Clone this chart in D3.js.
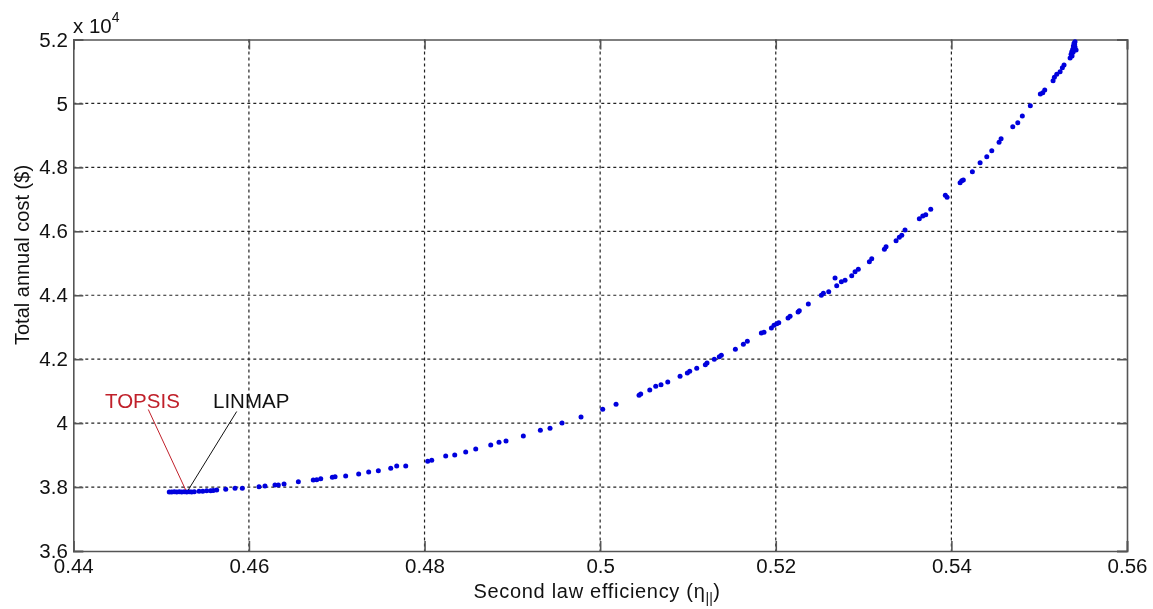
<!DOCTYPE html>
<html>
<head>
<meta charset="utf-8">
<script src="https://cdn.jsdelivr.net/npm/d3@7"></script>
<style>
  html, body { margin: 0; padding: 0; background: #fff; }
  svg { will-change: transform; }
  svg text { font-family: "Liberation Sans", Arial, sans-serif; }
</style>
</head>
<body>
<svg id="chart" width="1153" height="609"></svg>
<script>
// ---- Data ----
const efficiency = [
  0.45093,0.45121,0.45150,0.45178,0.45207,0.45235,0.45264,0.45292,0.45321,0.45348,0.45378,
  0.45432,0.45474,0.45519,0.45565,0.45594,0.45633,0.45736,0.45842,0.45925,
  0.46115,0.46183,0.46297,0.46335,0.46400,0.46563,0.46733,0.46772,0.46818,0.46950,0.46981,
  0.47102,0.47250,0.47364,0.47474,0.47615,0.47683,0.47786,0.48036,0.48082,0.48241,0.48344,
  0.48469,0.48583,0.48754,0.48848,0.48928,0.49125,0.49319,0.49429,0.49566,0.49782,
  0.50029,0.50181,0.50443,0.50462,0.50565,0.50633,0.50693,0.50770,0.50910,0.50993,0.51020,
  0.51100,0.51198,0.51217,0.51300,0.51357,0.51380,0.51540,0.51631,0.51676,0.51836,0.51866,
  0.51950,0.51980,0.52011,0.52034,0.52140,0.52163,0.52254,0.52268,0.52371,0.52519,0.52542,
  0.52603,0.52675,0.52694,0.52747,0.52789,0.52865,0.52903,0.52940,0.53066,0.53093,0.53237,
  0.53256,0.53370,0.53407,0.53435,0.53472,0.53635,0.53674,0.53708,0.53765,0.53931,0.53951,
  0.54099,0.54118,0.54136,0.54239,0.54327,0.54403,0.54460,0.54543,0.54566,0.54699,0.54756,
  0.54808,0.54899,0.55013,0.55041,0.55063,0.55158,0.55173,0.55200,0.55238,0.55264,0.55283,
  0.55363,0.55371,0.55382,0.55389,0.55397,0.55408,0.55386,0.55408,0.55420,0.55374,0.55403,0.55352
];
const annualCost = [
  37846,37842,37850,37846,37852,37846,37850,37846,37852,37846,37850,
  37867,37867,37886,37886,37890,37908,37930,37961,37961,
  38011,38033,38064,38064,38096,38168,38221,38225,38262,38305,38324,
  38346,38409,38471,38512,38587,38659,38659,38806,38837,38972,39003,
  39097,39191,39316,39400,39441,39597,39776,39838,40004,40192,
  40432,40589,40870,40911,41036,41152,41202,41286,41465,41568,41621,
  41715,41828,41881,41996,42078,42122,42309,42466,42560,42819,42841,
  42975,43060,43110,43141,43288,43342,43476,43517,43726,43998,44061,
  44111,44540,44299,44424,44468,44612,44737,44812,45050,45143,45437,
  45519,45706,45813,45875,46041,46394,46479,46520,46688,47126,47064,
  47521,47583,47605,47865,48146,48334,48521,48784,48897,49272,49397,
  49607,49929,50295,50336,50420,50711,50818,50911,50993,51118,51203,
  51537,51618,51693,51796,51881,51931,51600,51765,51671,51480,51850,51420
];
const xTicks = [0.44, 0.46, 0.48, 0.50, 0.52, 0.54, 0.56];
const xTickLabels = ["0.44", "0.46", "0.48", "0.5", "0.52", "0.54", "0.56"];
const yTicks = [36000, 38000, 40000, 42000, 44000, 46000, 48000, 50000, 52000];
const yTickLabels = ["3.6", "3.8", "4", "4.2", "4.4", "4.6", "4.8", "5", "5.2"];
const annotNames = ["TOPSIS", "LINMAP"];
const annotPoints = [[0.45280, 37846], [0.45292, 37846]];

// ---- Layout ----
const svg = d3.select("#chart");
const mLeft = 73.3, mRight = 1127, mTop = 39.5, mBottom = 551;

const x = d3.scaleLinear().domain([0.44, 0.56]).range([mLeft, mRight]);
const y = d3.scaleLinear().domain([36000, 52000]).range([mBottom, mTop]);

const g = svg.append("g");

// Grid lines (dotted)
g.append("g").selectAll("line").data(xTicks.slice(1, -1)).join("line")
  .attr("x1", d => x(d)).attr("x2", d => x(d))
  .attr("y1", mTop).attr("y2", mBottom)
  .attr("stroke", "#222").attr("stroke-width", 1.2).attr("stroke-dasharray", "3,3");
g.append("g").selectAll("line").data(yTicks.slice(1, -1)).join("line")
  .attr("x1", mLeft).attr("x2", mRight)
  .attr("y1", d => y(d)).attr("y2", d => y(d))
  .attr("stroke", "#222").attr("stroke-width", 1.2).attr("stroke-dasharray", "3,3");

// Axes with inward ticks (MATLAB style)
const tickLen = 10;
const xAxisB = d3.axisBottom(x).tickValues(xTicks).tickSize(-tickLen).tickFormat((d, i) => xTickLabels[i]).tickPadding(7.8);
const xAxisT = d3.axisTop(x).tickValues(xTicks).tickSize(-tickLen).tickFormat("");
const yAxisL = d3.axisLeft(y).tickValues(yTicks).tickSize(-tickLen).tickFormat((d, i) => yTickLabels[i]).tickPadding(5.5);
const yAxisR = d3.axisRight(y).tickValues(yTicks).tickSize(-tickLen).tickFormat("");

function styleAxis(sel) {
  sel.selectAll("path").attr("stroke", "#555").attr("stroke-width", 1.6);
  sel.selectAll("line").attr("stroke", "#555").attr("stroke-width", 1.6);
  sel.selectAll("text").attr("font-size", 20.5).attr("fill", "#111")
    .style("font-family", "'Liberation Sans', Arial, sans-serif");
}
g.append("g").attr("transform", `translate(0,${mBottom})`).call(xAxisB).call(styleAxis);
g.append("g").attr("transform", `translate(0,${mTop})`).call(xAxisT).call(styleAxis);
g.append("g").attr("transform", `translate(${mLeft},0)`).call(yAxisL).call(styleAxis);
g.append("g").attr("transform", `translate(${mRight},0)`).call(yAxisR).call(styleAxis);

// Exponent label
const expo = svg.append("text").attr("x", 73).attr("y", 33).attr("font-size", 20.5).attr("fill", "#111");
expo.append("tspan").text("x 10");
expo.append("tspan").attr("dy", -11).attr("font-size", 14).text("4");

// Axis titles
svg.append("text").attr("x", 597).attr("y", 598).attr("text-anchor", "middle")
  .attr("font-size", 20).attr("letter-spacing", 0.7).attr("fill", "#111")
  .call(t => {
    t.append("tspan").text("Second law efficiency (η");
    t.append("tspan").attr("dy", 5).attr("font-size", 14).attr("letter-spacing", 0.2).attr("fill", "#111").text("||");
    t.append("tspan").attr("dy", -5).text(")");
  });
svg.append("text").attr("transform", "translate(29,255) rotate(-90)")
  .attr("text-anchor", "middle").attr("font-size", 20).attr("fill", "#111")
  .text("Total annual cost ($)");

// Data points
g.append("g").selectAll("circle").data(efficiency.map((e, i) => [e, annualCost[i]])).join("circle")
  .attr("cx", d => x(d[0])).attr("cy", d => y(d[1]))
  .attr("r", 2.5).attr("fill", "#0000dd");

// Annotations
const annotLabelPos = [[x.invert(105), y.invert(408)], [x.invert(213), y.invert(408)]];
const annotLineStart = [[148.3, 409.5], [236.7, 411.5]];
const annotColors = ["#c0202a", "#111"];
annotNames.forEach((name, i) => {
  svg.append("line")
    .attr("x1", annotLineStart[i][0]).attr("y1", annotLineStart[i][1])
    .attr("x2", x(annotPoints[i][0]) + (i ? 1.5 : 0)).attr("y2", y(annotPoints[i][1]) - 2)
    .attr("stroke", annotColors[i]).attr("stroke-width", 1);
  svg.append("text").attr("x", x(annotLabelPos[i][0])).attr("y", y(annotLabelPos[i][1]))
    .attr("font-size", 20.5).attr("fill", annotColors[i]).text(name);
});
</script>
</body>
</html>
